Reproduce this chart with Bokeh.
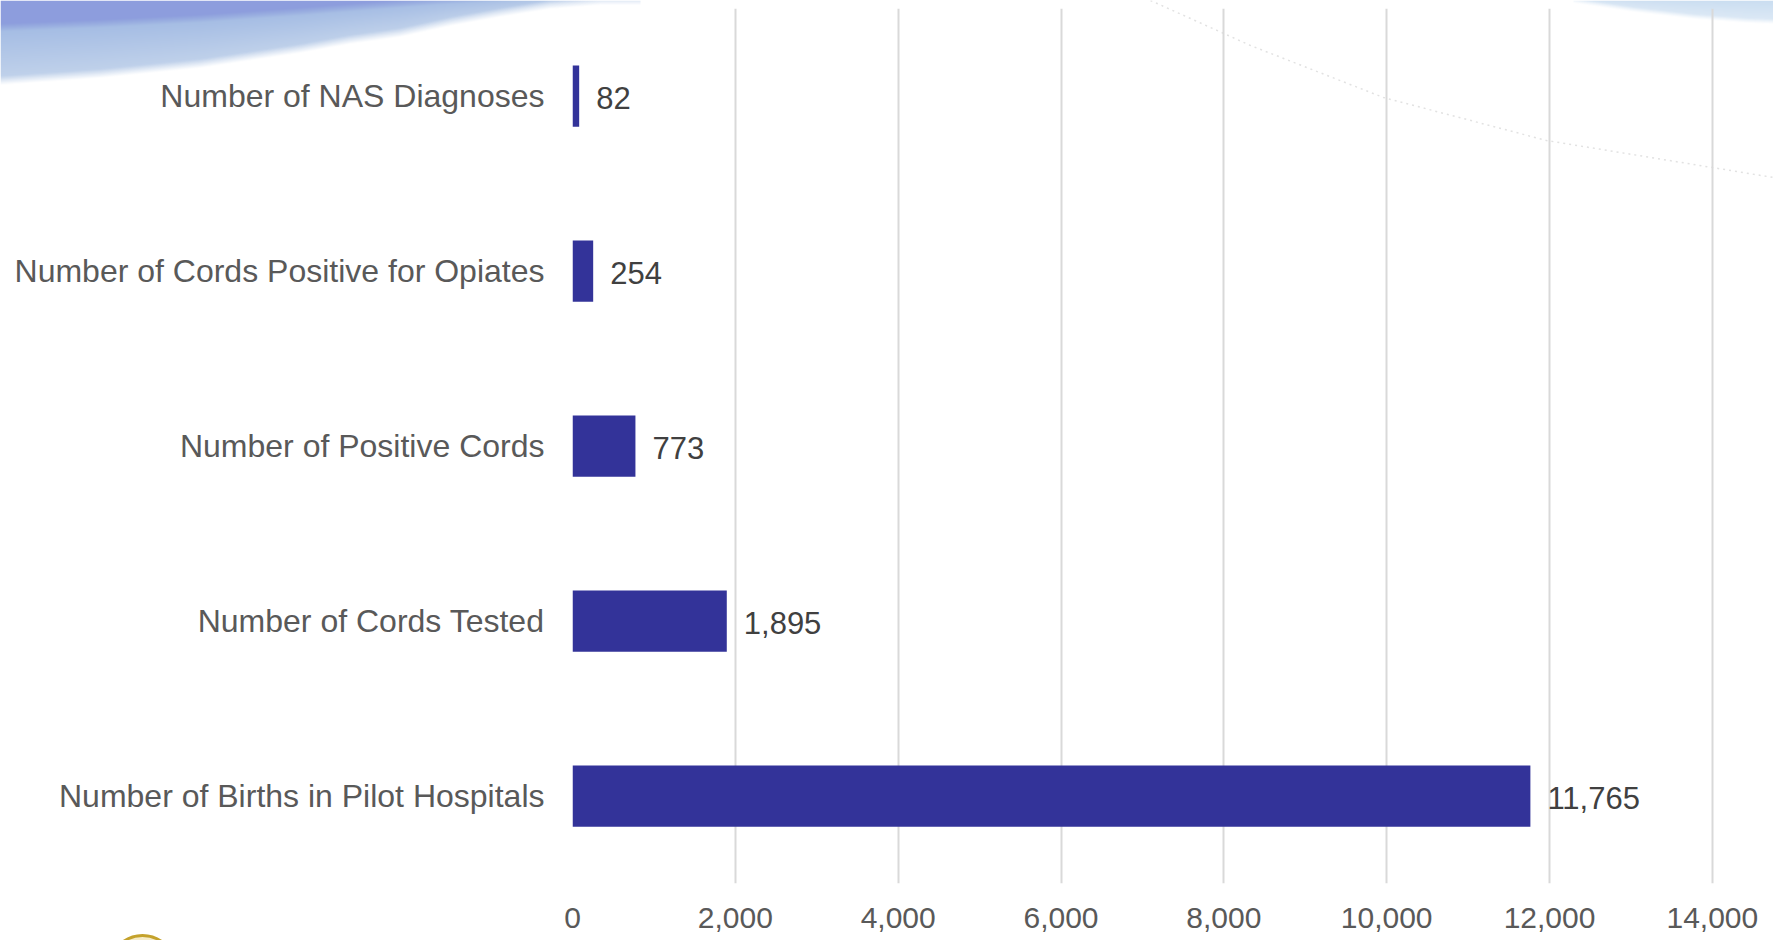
from bokeh.plotting import figure
from bokeh.models import (ColumnDataSource, FactorRange, Range1d, LabelSet,
                          NumeralTickFormatter, FixedTicker, GridBox)
from bokeh.core.properties import value
from bokeh.embed import file_html
from bokeh.resources import INLINE
import numpy as np

# Screening pipeline counts, listed bottom to top
categories = [
    "Number of Births in Pilot Hospitals",
    "Number of Cords Tested",
    "Number of Positive Cords",
    "Number of Cords Positive for Opiates",
    "Number of NAS Diagnoses",
]
counts = [11765, 1895, 773, 254, 82]
x_ticks = [0, 2000, 4000, 6000, 8000, 10000, 12000, 14000]

W, H = 1773, 940
FONT = "Liberation Sans"

# ---------------------------------------------------------------- backdrop
# A full-canvas figure in pixel coordinates holding the slide decorations.
bg = figure(width=W, height=H, x_range=Range1d(0, W), y_range=Range1d(0, H),
            output_backend="svg", toolbar_location=None,
            min_border=0, outline_line_color=None)
bg.frame_align = False
bg.axis.visible = False
bg.grid.visible = False
bg.background_fill_color = "white"
bg.border_fill_color = "white"


def swoosh(width, height, edge_x, edge_y, band_x, band_y, colors, fade=7.0):
    """RGBA raster of a curved band hanging from the top edge."""
    xx = np.arange(width)[None, :] + 0.5
    yy = np.arange(height)[:, None] + 0.5
    edge = np.interp(xx, edge_x, edge_y)
    band = np.interp(xx, band_x, band_y)
    c_top, c_mid, c_low = [np.array(c, float) for c in colors]
    # dark band on top, then a gradient toward the light lower edge
    t_band = np.clip((yy - band) / 8.0 + 0.5, 0, 1)[..., None]
    span = np.maximum(edge - band, 1.0)
    t_low = np.clip((yy - band) / span, 0, 1)[..., None]
    lower = c_mid * (1 - t_low) + c_low * t_low
    rgb = c_top * (1 - t_band) + lower * t_band
    alpha = np.clip((edge - yy) / fade + 0.5, 0, 1)
    img = np.zeros((height, width, 4), dtype=np.uint8)
    img[..., :3] = np.clip(rgb, 0, 255).astype(np.uint8)
    img[..., 3] = (alpha * 255).astype(np.uint8)
    return img[::-1].copy().view(np.uint32).reshape(height, width)


# top-left swoosh
tl = swoosh(640, 92,
            [0, 100, 200, 300, 350, 400, 450, 500, 550, 600],
            [80, 73, 63, 48, 39, 32, 21, 12, 4, 0],
            [0, 100, 200, 300, 440, 640],
            [27, 23, 18, 11, 0, -10],
            [(141, 157, 221), (164, 188, 228), (194, 211, 235)], fade=9.0)
bg.image_rgba(image=[tl], x=0, y=H - 92, dw=640, dh=92)

# top-right swoosh
tr = swoosh(200, 30,
            [0, 20, 60, 120, 173, 200],
            [0, 3, 9, 16, 20, 21],
            [0, 200], [-5, -5],
            [(200, 220, 240), (198, 219, 240), (222, 234, 246)], fade=5.0)
bg.image_rgba(image=[tr], x=1573, y=H - 30, dw=200, dh=30)

# faint dotted arc over the upper right
arc_x = [1150, 1250, 1383, 1546, 1773]
arc_y = [0, 45, 97, 140, 177]
bg.line(arc_x, [H - b for b in arc_y],
        line_color="#e2e2e2", line_width=1.5, line_dash="2 4")

# gold emblem peeking at the bottom edge
bg.circle(x=[142], y=[H - 968], radius=33,
          fill_color="#f6ecc8", line_color="#c4a22c", line_width=3)

# ------------------------------------------------------------------ chart
src = ColumnDataSource(dict(
    cat=categories,
    val=counts,
    txt=[f"{v:,}" for v in counts],
))

p = figure(
    width=W, height=H,
    y_range=FactorRange(factors=categories),
    x_range=Range1d(0, 14100),
    output_backend="svg", toolbar_location=None,
    min_border_left=572, min_border_right=53,
    min_border_top=8, min_border_bottom=57,
)
p.frame_align = False
p.outline_line_color = None
p.background_fill_color = None
p.border_fill_color = None

p.hbar(y="cat", right="val", left=0, height=0.35, source=src,
       fill_color="#333399", line_color=None)

labels = LabelSet(x="val", y="cat", text="txt", source=src,
                  x_offset=17, y_offset=-2, text_baseline="middle",
                  text_font=value(FONT), text_font_size="31px",
                  text_color="#404040")
p.add_layout(labels)

# x axis
xa = p.xaxis[0]
xa.ticker = FixedTicker(ticks=x_ticks)
xa.formatter = NumeralTickFormatter(format="0,0")
xa.axis_line_color = None
xa.major_tick_line_color = None
xa.minor_tick_line_color = None
xa.major_label_standoff = 18
xa.major_label_text_font = FONT
xa.major_label_text_font_size = "30px"
xa.major_label_text_color = "#595959"

# y axis
ya = p.yaxis[0]
ya.axis_line_color = None
ya.major_tick_line_color = None
ya.minor_tick_line_color = None
ya.major_label_standoff = 22
ya.major_label_text_font = FONT
ya.major_label_text_font_size = "32px"
ya.major_label_text_color = "#595959"

p.ygrid.grid_line_color = None
p.xgrid.ticker = FixedTicker(ticks=x_ticks)
p.xgrid.grid_line_color = "#d9d9d9"
p.xgrid.grid_line_width = 2

# chart stacked over the backdrop in the same grid cell
page = GridBox(children=[(bg, 0, 0), (p, 0, 0)], width=W, height=H)

open("out.html", "w").write(file_html(page, INLINE))
